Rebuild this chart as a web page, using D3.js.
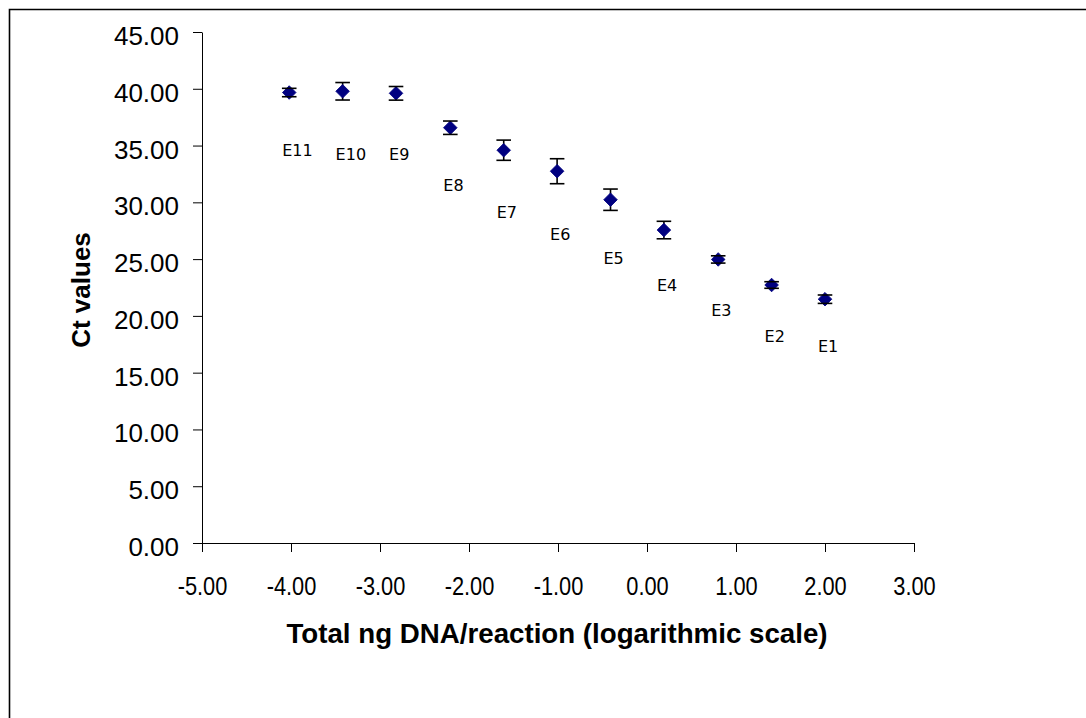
<!DOCTYPE html>
<html>
<head>
<meta charset="utf-8">
<script src="https://cdn.jsdelivr.net/npm/d3@7"></script>
<style>
  body { margin: 0; background: #fff; }
  svg { display: block; }
</style>
</head>
<body>
<div id="chart"></div>
<script>
// Standard dilution series, E1 (highest amount) to E11.
var labels = ["E1", "E2", "E3", "E4", "E5", "E6", "E7", "E8", "E9", "E10", "E11"];

// log10 of total ng DNA per reaction.
var logDNA = [2.00, 1.40, 0.80, 0.19, -0.41, -1.01, -1.61, -2.21, -2.82, -3.42, -4.02];

// Mean Ct values and the half length of each error bar.
var ctMean = [21.47, 22.72, 24.97, 27.56, 30.23, 32.74, 34.59, 36.57, 39.60, 39.78, 39.67];
var ctErr = [0.37, 0.29, 0.32, 0.77, 0.94, 1.10, 0.89, 0.59, 0.60, 0.77, 0.37];

// Ct value at which each point's data label sits.
var labelCt = [16.8, 17.7, 20.0, 22.2, 24.6, 26.7, 28.6, 31.0, 33.7, 33.7, 34.1];

// Axis ticks.
var xTicks = [-5, -4, -3, -2, -1, 0, 1, 2, 3];
var yTicks = [0, 5, 10, 15, 20, 25, 30, 35, 40, 45];

var w = 1086,
    h = 718,
    font = "'Liberation Sans', Arial, sans-serif";

var svg = d3.select("#chart")
    .append("svg")
    .attr("width", w)
    .attr("height", h);

svg.append("rect")
    .attr("width", w)
    .attr("height", h)
    .attr("fill", "#fff");

// Chart frame, running off the right and bottom of the picture.
svg.append("path")
    .attr("d", "M9.5," + (h + 5) + "V9.5H" + (w + 5))
    .attr("fill", "none")
    .attr("stroke", "#000")
    .attr("stroke-width", 1.6);

var x = d3.scaleLinear().domain([-5, 3]).range([202, 914]);
var y = d3.scaleLinear().domain([0, 45]).range([543, 32]);

var fmt = function (d) { return d.toFixed(2); };

// Y axis
var yAxis = svg.append("g")
    .attr("transform", "translate(" + x(-5) + ",0)")
    .call(d3.axisLeft(y)
        .tickValues(yTicks)
        .tickFormat(fmt)
        .tickSize(9)
        .tickSizeOuter(0)
        .tickPadding(14));

yAxis.selectAll("text")
    .attr("dy", "0.48em")
    .style("font-family", font)
    .style("font-size", "26px")
    .attr("fill", "#000");

// X axis
var xAxis = svg.append("g")
    .attr("transform", "translate(0," + y(0) + ")")
    .call(d3.axisBottom(x)
        .tickValues(xTicks)
        .tickFormat(fmt)
        .tickSize(9)
        .tickSizeOuter(0)
        .tickPadding(25));

xAxis.selectAll("text")
    .style("font-family", font)
    .style("font-size", "26px")
    .attr("fill", "#000")
    .attr("transform", "scale(0.84,1)");

svg.selectAll(".domain, .tick line")
    .attr("stroke", "#000")
    .attr("stroke-width", 1);

// Axis titles
svg.append("text")
    .attr("x", 557)
    .attr("y", 643)
    .attr("text-anchor", "middle")
    .style("font-family", font)
    .style("font-size", "27.7px")
    .style("font-weight", "bold")
    .text("Total ng DNA/reaction (logarithmic scale)");

svg.append("text")
    .attr("transform", "translate(90,290) rotate(-90)")
    .attr("text-anchor", "middle")
    .style("font-family", font)
    .style("font-size", "26px")
    .style("font-weight", "bold")
    .text("Ct values");

var points = labels.map(function (d, i) {
    return { label: d, x: logDNA[i], y: ctMean[i], err: ctErr[i], ly: labelCt[i] };
});

var g = svg.selectAll("g.point")
    .data(points)
    .enter()
    .append("g")
    .attr("class", "point");

// Error bar stems, behind the markers.
g.append("line")
    .attr("x1", function (d) { return x(d.x); })
    .attr("x2", function (d) { return x(d.x); })
    .attr("y1", function (d) { return y(d.y - d.err); })
    .attr("y2", function (d) { return y(d.y + d.err); })
    .attr("stroke", "#000")
    .attr("stroke-width", 1.6);

// Diamond markers
g.append("path")
    .attr("d", d3.symbol().type(d3.symbolSquare).size(92))
    .attr("transform", function (d) {
        return "translate(" + x(d.x) + "," + y(d.y) + ") rotate(45)";
    })
    .attr("fill", "#000080")
    .attr("stroke", "#000080")
    .attr("stroke-width", 0.8);

// Error bar caps
[-1, 1].forEach(function (s) {
    g.append("line")
        .attr("x1", function (d) { return x(d.x) - 7.3; })
        .attr("x2", function (d) { return x(d.x) + 7.3; })
        .attr("y1", function (d) { return y(d.y + s * d.err); })
        .attr("y2", function (d) { return y(d.y + s * d.err); })
        .attr("stroke", "#000")
        .attr("stroke-width", 1.6);
});

// Data labels
g.append("text")
    .attr("x", function (d) { return x(d.x) - 7; })
    .attr("y", function (d) { return y(d.ly); })
    .style("font-family", "'DejaVu Sans', Verdana, sans-serif")
    .style("font-size", "16px")
    .attr("fill", "#000")
    .text(function (d) { return d.label; });
</script>
</body>
</html>
